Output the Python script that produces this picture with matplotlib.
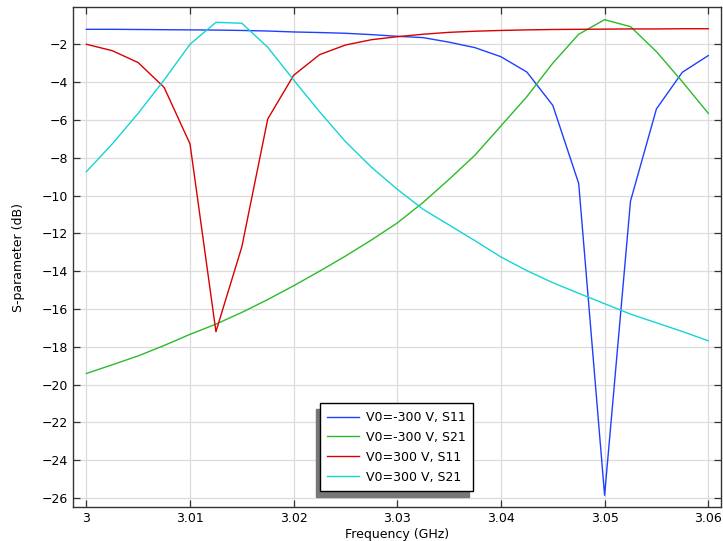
import numpy as np
import matplotlib
matplotlib.use("Agg")
from matplotlib import pyplot as plt

# frequency sweep, GHz
freq = [3.0 + 0.0025 * i for i in range(25)]

# V0=-300 V, S11
s11_neg = [-1.21, -1.21, -1.22, -1.23, -1.24, -1.25, -1.27, -1.30, -1.35, -1.38, -1.42, -1.49, -1.58,
           -1.65, -1.89, -2.18, -2.66, -3.47, -5.23, -9.36, -25.85, -10.29, -5.42, -3.48, -2.60]
# V0=-300 V, S21
s21_neg = [-19.41, -18.95, -18.48, -17.93, -17.34, -16.80, -16.18, -15.50, -14.77, -14.00, -13.20, -12.35, -11.45,
           -10.36, -9.14, -7.86, -6.32, -4.77, -3.00, -1.47, -0.70, -1.07, -2.39, -3.98, -5.65]
# V0=300 V, S11
s11_pos = [-2.00, -2.34, -2.97, -4.28, -7.27, -17.20, -12.71, -5.95, -3.64, -2.55, -2.04, -1.76, -1.60,
           -1.47, -1.37, -1.31, -1.27, -1.24, -1.22, -1.21, -1.20, -1.19, -1.19, -1.18, -1.18]
# V0=300 V, S21
s21_pos = [-8.74, -7.27, -5.65, -3.89, -2.00, -0.84, -0.89, -2.16, -3.89, -5.57, -7.15, -8.50, -9.67,
           -10.73, -11.56, -12.39, -13.25, -13.97, -14.61, -15.17, -15.72, -16.27, -16.73, -17.19, -17.68]

labels = ["V0=-300 V, S11", "V0=-300 V, S21", "V0=300 V, S11", "V0=300 V, S21"]
colors = ["#1f3fff", "#2cba2c", "#d80000", "#14d4d4"]

xticks = [3.0, 3.01, 3.02, 3.03, 3.04, 3.05, 3.06]
xticklabels = ["3", "3.01", "3.02", "3.03", "3.04", "3.05", "3.06"]
yticks = list(range(-26, -1, 2))

plt.rcParams['font.family'] = ['DejaVu Sans']
plt.rcParams['font.size'] = 9

fig = plt.figure(figsize=(7.23, 5.41), dpi=100)
ax = fig.add_axes([73/723, 34/541, 648/723, 500/541])

for y, c, lab in zip([s11_neg, s21_neg, s11_pos, s21_pos], colors, labels):
    ax.plot(freq, y, color=c, lw=1.0, label=lab)

ax.set_xlim(2.99871, 3.06123)
ax.set_ylim(-26.47, -0.03)
ax.set_xticks(xticks)
ax.set_xticklabels(xticklabels)
ax.set_yticks(yticks)
ax.grid(True, color="#dcdcdc", lw=0.9)
ax.set_axisbelow(True)
ax.tick_params(direction="in", length=5, width=0.9, top=True, right=True, labelsize=9, color="#333333")
for s in ax.spines.values():
    s.set_color("#333333")
    s.set_linewidth(1.0)

ax.set_xlabel("Frequency (GHz)", fontsize=9, labelpad=2)
ax.set_ylabel("S-parameter (dB)", fontsize=9, labelpad=12)

leg = ax.legend(loc="lower left", bbox_to_anchor=(0.381, 0.032), borderaxespad=0,
                fancybox=False, edgecolor="black", framealpha=1, fontsize=9,
                handlelength=2.5, handletextpad=0.6, labelspacing=0.55, borderpad=0.6,
                shadow={'ox': -3, 'oy': -4, 'color': '#777777', 'alpha': 1})
leg.get_frame().set_linewidth(1.0)

fig.savefig("out.png", dpi=100)
